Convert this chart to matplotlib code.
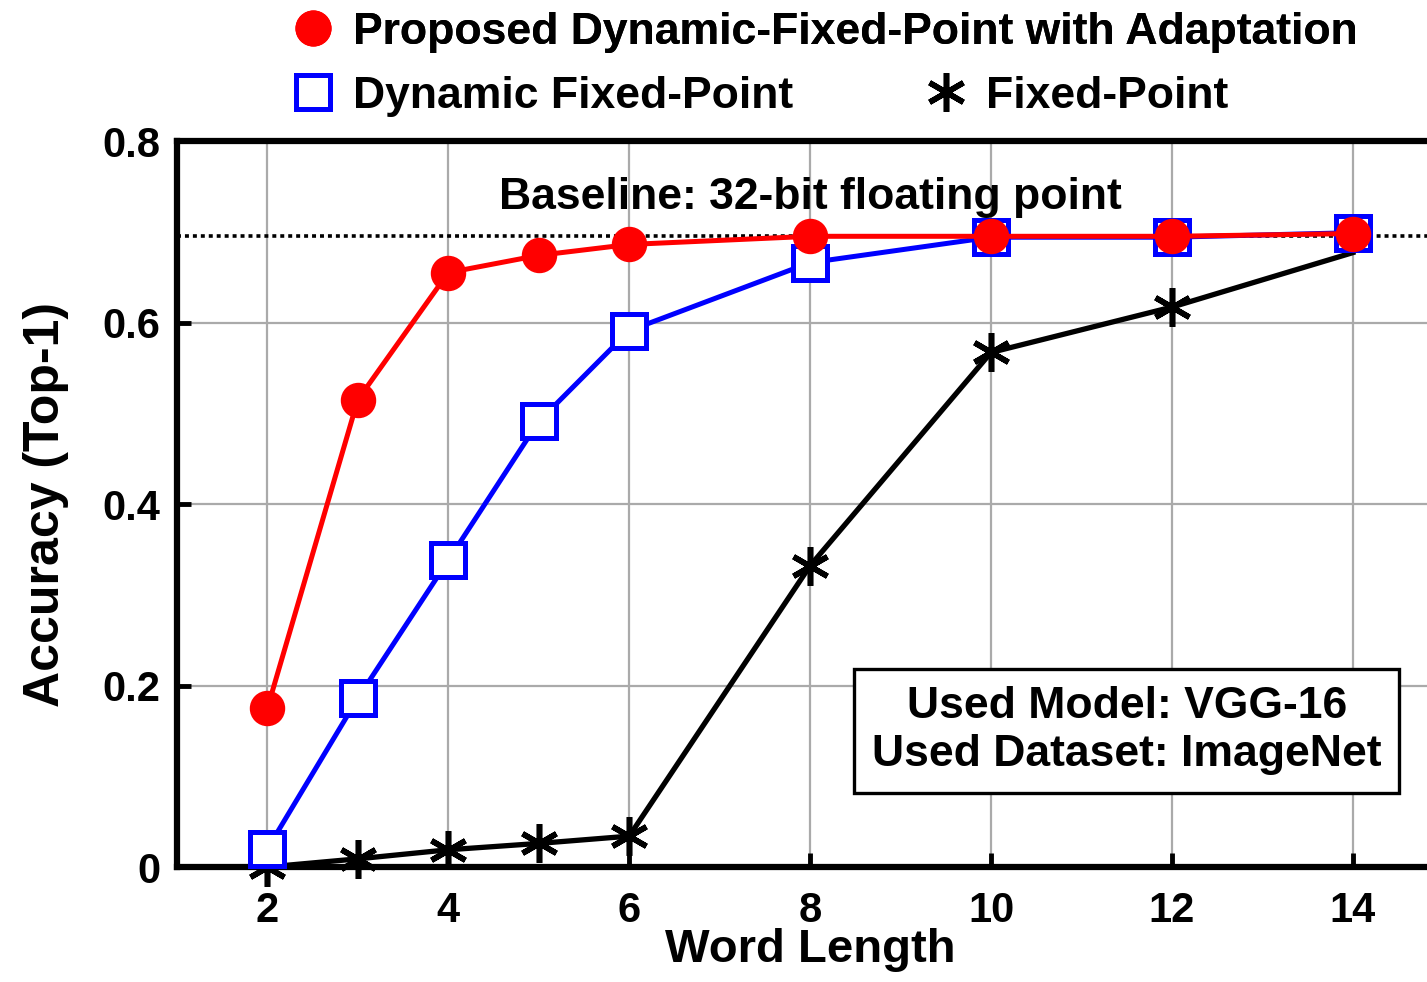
import matplotlib.pyplot as plt
from matplotlib.lines import Line2D

plt.rcParams['font.family'] = ['Liberation Sans', 'DejaVu Sans']
plt.rcParams['font.weight'] = 'bold'
plt.rcParams['axes.labelweight'] = 'bold'

# word length (bits)
word_len = [2, 3, 4, 5, 6, 8, 10, 12, 14]

# top-1 accuracy
acc_proposed = [0.175, 0.515, 0.655, 0.674, 0.686, 0.695, 0.695, 0.695, 0.698]
acc_dynamic = [0.020, 0.186, 0.338, 0.491, 0.591, 0.666, 0.694, 0.694, 0.699]
acc_fixed = [0.000, 0.009, 0.019, 0.026, 0.034, 0.332, 0.567, 0.617, 0.677]

baseline = 0.695

xticks = [2, 4, 6, 8, 10, 12, 14]
yticks = [0, 0.2, 0.4, 0.6, 0.8]
ytick_labels = ['0', '0.2', '0.4', '0.6', '0.8']

fig = plt.figure(figsize=(14.27, 9.82), dpi=100)
ax = fig.add_axes([0.124, 0.1171, 0.876, 0.7393])

ax.axhline(baseline, color='black', linestyle=(0, (1.1, 1.1)), linewidth=2.6, zorder=2)

star = (6, 2, 0)
ax.plot(word_len, acc_fixed, color='black', linewidth=3.8, marker=star,
        markersize=28, markeredgewidth=4, markevery=list(range(len(word_len) - 1)),
        clip_on=False, zorder=3)
ax.plot(word_len, acc_dynamic, color='blue', linewidth=3.6, marker='s',
        markersize=24, markerfacecolor='white', markeredgecolor='blue',
        markeredgewidth=3.6, clip_on=False, zorder=4)
ax.plot(word_len, acc_proposed, color='red', linewidth=3.6, marker='o',
        markersize=24.5, markerfacecolor='red', markeredgecolor='red',
        clip_on=False, zorder=5)

ax.set_xlim(1.0, 14.82)
ax.set_ylim(0, 0.8)
ax.set_xticks(xticks)
ax.set_yticks(yticks)
ax.set_yticklabels(ytick_labels)
ax.tick_params(direction='in', length=10, width=3.5, labelsize=30)
ax.tick_params(axis='y', pad=12)
ax.tick_params(axis='x', pad=17)
ax.grid(True, color='#aaaaaa', linewidth=1.6)
ax.set_axisbelow(True)
for side in ['left', 'bottom', 'top']:
    ax.spines[side].set_linewidth(4.5)
ax.spines['right'].set_visible(False)

ax.set_xlabel('Word Length', fontsize=34)
ax.xaxis.set_label_coords(0.507, -0.084)
ax.set_ylabel('Accuracy (Top-1)', fontsize=36, labelpad=24)

ax.text(8, 0.738, 'Baseline: 32-bit floating point', fontsize=32,
        ha='center', va='center')
ax.text(11.5, 0.150, 'Used Model: VGG-16\nUsed Dataset: ImageNet', fontsize=32,
        ha='center', va='center', linespacing=1.22,
        bbox=dict(boxstyle='square,pad=0.4', facecolor='white',
                  edgecolor='black', linewidth=2.4))

h_prop = Line2D([], [], linestyle='none', marker='o', markersize=25,
                color='red', label='Proposed Dynamic-Fixed-Point with Adaptation')
h_dyn = Line2D([], [], linestyle='none', marker='s', markersize=24,
               markerfacecolor='white', markeredgecolor='blue',
               markeredgewidth=3.6, label='Dynamic Fixed-Point')
h_fix = Line2D([], [], linestyle='none', marker=star, markersize=28,
               markeredgewidth=4, color='black', label='Fixed-Point')

leg1 = fig.legend(handles=[h_prop], loc='center left', bbox_to_anchor=(0.2053, 0.967),
                  frameon=False, fontsize=32, handlelength=0.9, handletextpad=0.45,
                  borderpad=0, borderaxespad=0)
fig.add_artist(leg1)
fig.legend(handles=[h_dyn, h_fix], loc='center left', bbox_to_anchor=(0.2053, 0.902),
           frameon=False, fontsize=32, ncol=2, handlelength=0.9, handletextpad=0.45,
           columnspacing=3.0, borderpad=0, borderaxespad=0)

fig.savefig('out.png', dpi=100)
